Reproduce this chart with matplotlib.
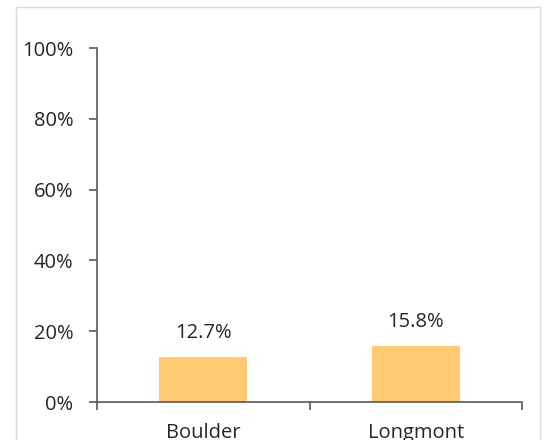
import matplotlib.pyplot as plt
from matplotlib.patches import Rectangle
from matplotlib.ticker import FixedLocator

# values
cities = ['Boulder', 'Longmont']
shares = [12.7, 15.8]
y_ticks = [0, 20, 40, 60, 80, 100]

plt.rcParams['font.family'] = ['Open Sans', 'DejaVu Sans']

fig = plt.figure(figsize=(5.48, 4.40), dpi=100)
W, H = 548, 440

# thin grey frame around the chart area (cut off at the bottom like the reference)
frame = Rectangle((16 / W, -0.01), (540 - 16) / W, 1 - 7 / H + 0.01,
                  transform=fig.transFigure, fill=False,
                  edgecolor='#d9d9d9', linewidth=1)
fig.patches.append(frame)

ax = fig.add_axes([97 / W, 1 - 402 / H, (522 - 97) / W, (402 - 48) / H])

x = list(range(len(cities)))
bars = ax.bar(x, shares, width=0.414, color='#ffca72', zorder=2)

for b, v in zip(bars, shares):
    ax.text(b.get_x() + b.get_width() / 2, v + 4.0, f'{v:.1f}%',
            ha='center', va='bottom', fontsize=14.5, color='#262626')

ax.set_xlim(-0.5, len(cities) - 0.5)
ax.set_ylim(0, 100)
ax.set_yticks(y_ticks)
ax.set_yticklabels([f'{t}%' for t in y_ticks])
ax.set_xticks(x)
ax.set_xticklabels(cities)
ax.xaxis.set_minor_locator(FixedLocator([i - 0.5 for i in range(len(cities) + 1)]))

line_c = '#595959'
for s in ['top', 'right']:
    ax.spines[s].set_visible(False)
for s in ['left', 'bottom']:
    ax.spines[s].set_color(line_c)
    ax.spines[s].set_linewidth(1.2)

ax.tick_params(axis='y', direction='out', length=6, width=1.2, color=line_c,
               labelsize=14.5, labelcolor='#262626', pad=11)
ax.tick_params(axis='x', which='major', length=0, labelsize=14.5,
               labelcolor='#262626', pad=15)
ax.tick_params(axis='x', which='minor', direction='out', length=6, width=1.2,
               color=line_c)

fig.savefig('out.png', dpi=100)
